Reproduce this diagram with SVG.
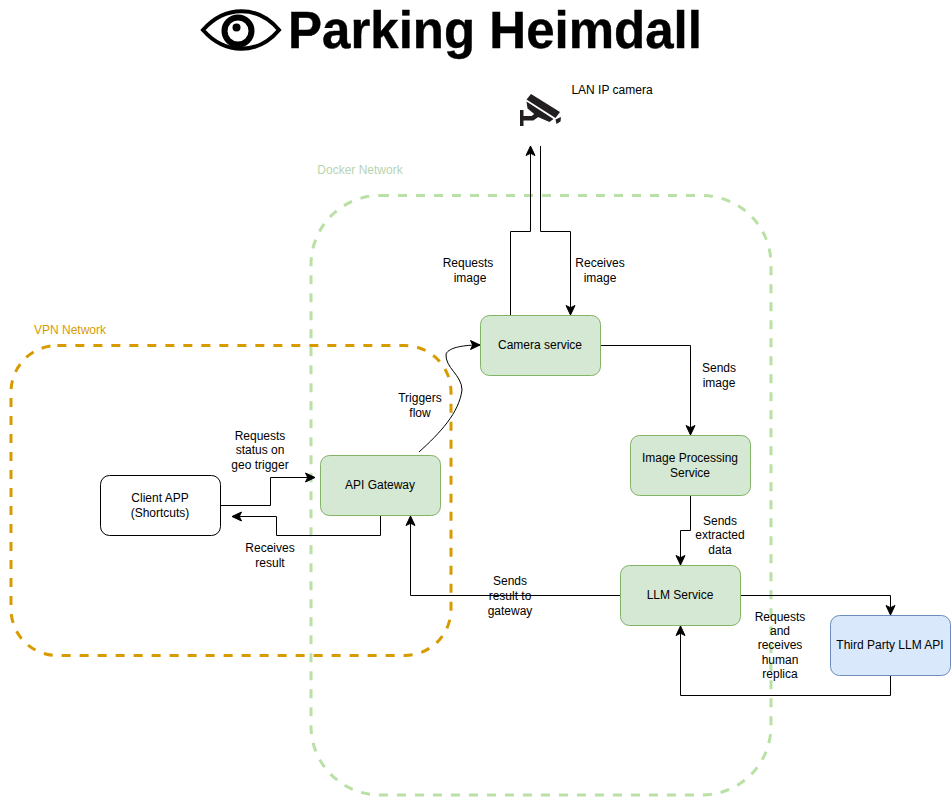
<svg xmlns="http://www.w3.org/2000/svg" width="951" height="797" viewBox="0 0 951 797">
<style>
text{font-family:"Liberation Sans",Arial,Helvetica,sans-serif;font-size:12px;fill:#000;text-anchor:middle}
.box{stroke-width:1}
.g{fill:#d5e8d4;stroke:#82b366}
.b{fill:#dae8fc;stroke:#6c8ebf}
.w{fill:#fff;stroke:#000}
.c{fill:none;stroke:#000;stroke-width:1}
.a{marker-end:url(#ah)}
.zone{fill:none;stroke-width:3;stroke-dasharray:9 9}
</style>
<defs>
<marker id="ah" markerUnits="userSpaceOnUse" markerWidth="12" markerHeight="12" viewBox="0 0 12 12" refX="10.5" refY="6" orient="auto">
<path d="M1 1.5 L10.5 6 L1 10.5 L3.2 6 Z" fill="#000" stroke="#000"/>
</marker>
</defs>
<rect width="951" height="797" fill="#fff"/>
<g id="docker-network">
<path class="zone" d="M380 195.500 H702 A69 69 0 0 1 771 264.500 V726 A69 69 0 0 1 702 795 H380 A69 69 0 0 1 311 726 V264.500 A69 69 0 0 1 380 195.500 Z" stroke="#b9e0a5"/>
<text x="360" y="174" style="fill:#b9d4b0">Docker Network</text>
</g>
<g id="vpn-network">
<path class="zone" d="M57.350 345.500 H404.650 A46.350 46.350 0 0 1 451 391.850 V609.150 A46.350 46.350 0 0 1 404.650 655.500 H57.350 A46.350 46.350 0 0 1 11 609.150 V391.850 A46.350 46.350 0 0 1 57.350 345.500 Z" stroke="#d79b00"/>
<text x="70" y="334" style="fill:#d79b00">VPN Network</text>
</g>
<g id="title">
<g fill="none" stroke="#000">
<path d="M203 30 C225 5 258 5 279 30 C258 55 225 55 203 30 Z" stroke-width="4"/>
<circle cx="238" cy="31" r="13.500" stroke-width="6"/>
</g>
<circle cx="236.500" cy="27.500" r="4" fill="#000"/>
<text x="495" y="48" style="font-size:51px;font-weight:bold;stroke:#000;stroke-width:.4">Parking Heimdall</text>
</g>
<g id="ip-camera">
<g fill="#231f20">
<path d="M531 94 L560 112 L555.500 118 L526.500 99.500 Z"/>
<path d="M526.500 101.500 L553.500 119 L549.500 122 L538 117 L527.500 108.500 Z"/>
<path d="M555.500 119.500 L561 117 L560.500 121.500 L556.500 124 Z"/>
<path d="M520 110 H523.500 V126 H520 Z"/>
<path d="M523 116 H531.700 L536 112.500 L539 116.500 L533.300 120.500 H523 Z"/>
</g>
<text x="612" y="94">LAN IP camera</text>
</g>
<g id="connectors">
<path class="c a" d="M510.500 315.500 V231.500 H530.500 V146"/>
<path class="c a" d="M540.500 146 V231.500 H570.500 V315"/>
<path class="c a" d="M600.500 345.500 H690.500 V435"/>
<path class="c a" d="M690.500 495.500 V530.500 H680.500 V565"/>
<path class="c a" d="M620.500 595.500 H410.500 V516"/>
<path class="c a" d="M740.500 595.500 H890.500 V615"/>
<path class="c a" d="M890.500 675.500 V695.500 H680.500 V626"/>
<path class="c a" d="M220.500 505.500 H270.500 V477.500 H315"/>
<path class="c a" d="M380.500 515.500 V535.500 H276.500 V516.500 H232"/>
<path class="c a" d="M419 452 C440 433 459 413 462 390 C462 375 445 368 446 354 C449 347 465 345 480 345"/>
</g>
<g id="camera-service"><rect class="box g" x="480.500" y="315.500" width="120" height="60" rx="9"/><text x="540" y="349">Camera service</text></g>
<g id="image-processing"><rect class="box g" x="630.500" y="435.500" width="120" height="60" rx="9"/><text x="690" y="462">Image Processing</text><text x="690" y="477">Service</text></g>
<g id="llm-service"><rect class="box g" x="620.500" y="565.500" width="120" height="60" rx="9"/><text x="680" y="599">LLM Service</text></g>
<g id="third-party"><rect class="box b" x="830.500" y="615.500" width="120" height="60" rx="9"/><text x="890" y="649">Third Party LLM API</text></g>
<g id="api-gateway"><rect class="box g" x="320.500" y="455.500" width="120" height="60" rx="9"/><text x="380" y="489">API Gateway</text></g>
<g id="client-app"><rect class="box w" x="100.500" y="475.500" width="120" height="60" rx="9"/><text x="160" y="502">Client APP</text><text x="160" y="517">(Shortcuts)</text></g>
<g id="labels">
<text x="468" y="267">Requests</text><text x="470" y="282">image</text>
<text x="600" y="267">Receives</text><text x="600" y="282">image</text>
<text x="719" y="372">Sends</text><text x="719" y="387">image</text>
<text x="720" y="525">Sends</text><text x="720" y="539">extracted</text><text x="720" y="554">data</text>
<text x="510" y="585">Sends</text><text x="510" y="600">result to</text><text x="510" y="615">gateway</text>
<text x="780" y="621">Requests</text><text x="780" y="635">and</text><text x="780" y="649">receives</text><text x="780" y="664">human</text><text x="780" y="678">replica</text>
<text x="420" y="402">Triggers</text><text x="420" y="417">flow</text>
<text x="260" y="440">Requests</text><text x="260" y="454">status on</text><text x="260" y="469">geo trigger</text>
<text x="270" y="552">Receives</text><text x="270" y="567">result</text>
</g>
</svg>
